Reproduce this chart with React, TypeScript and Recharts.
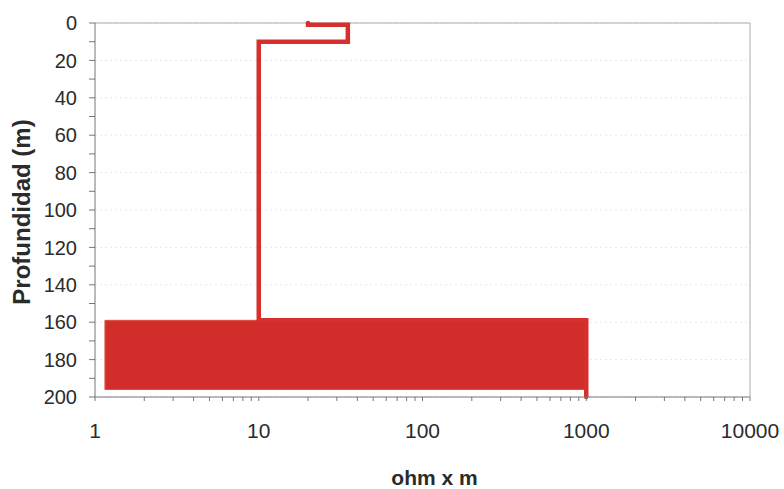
import {
  ComposedChart,
  Line,
  XAxis,
  YAxis,
  CartesianGrid,
  ReferenceArea,
  ReferenceLine
} from "recharts";

// resistivity (ohm x m) vs depth (m)
const resistivity = [20, 20, 35, 35, 10, 10, 1000, 1000];
const depth = [0, 1, 1, 10, 10, 159, 159, 200];

// dense block at the bottom of the profile
const blockRes = [1.15, 1000];
const blockDepth = [159, 196];

const xMajor = [1, 10, 100, 1000, 10000];
const xMinor = [2, 3, 4, 5, 6, 7, 8, 9, 20, 30, 40, 50, 60, 70, 80, 90, 200, 300, 400, 500, 600, 700, 800, 900, 2000, 3000, 4000, 5000, 6000, 7000, 8000, 9000];
const yMajor = [0, 20, 40, 60, 80, 100, 120, 140, 160, 180, 200];
const yMinor = [10, 30, 50, 70, 90, 110, 130, 150, 170, 190];

const data = resistivity.map((r, i) => ({ r, d: depth[i] }));

const RED = "#d6302c";
const TEXT = "#2b2b2b";
const FONT = "'Liberation Sans', Arial, sans-serif";

const XTick = (props: any) => {
  const { x, y, payload } = props;
  if (!xMajor.includes(payload.value)) return <g />;
  return (
    <text x={x} y={y} dy="0.71em" textAnchor="middle" fill={TEXT} fontSize={21} fontFamily={FONT}>
      {payload.value}
    </text>
  );
};

const YTick = (props: any) => {
  const { x, y, payload } = props;
  if (!yMajor.includes(payload.value)) return <g />;
  return (
    <text x={x} y={y} dy="0.355em" textAnchor="end" fill={TEXT} fontSize={20} fontFamily={FONT}>
      {payload.value}
    </text>
  );
};

export default function App() {
  const xTicks = [...xMajor, ...xMinor].sort((a, b) => a - b);
  const yTicks = [...yMajor, ...yMinor].sort((a, b) => a - b);
  return (
    <div style={{ position: "absolute", left: 0, top: 0, background: "#fff" }}>
      <ComposedChart
        width={784}
        height={489}
        data={data}
        margin={{ top: 23, right: 34, bottom: 0, left: 0 }}
      >
        <CartesianGrid
          vertical={false}
          horizontalValues={yMajor}
          stroke="#e8e8e8"
          strokeDasharray="2 3"
        />
        <XAxis
          dataKey="r"
          type="number"
          scale="log"
          domain={[1, 10000]}
          ticks={xTicks}
          interval={0}
          allowDataOverflow
          height={92}
          tickSize={4}
          tickMargin={22}
          tick={<XTick />}
          stroke="#777"
          label={{
            value: "ohm x m",
            position: "insideBottom",
            offset: 4,
            dx: 12,
            fill: TEXT,
            fontSize: 21,
            fontWeight: "bold",
            fontFamily: FONT
          }}
        />
        <YAxis
          dataKey="d"
          type="number"
          reversed
          domain={[0, 200]}
          ticks={yTicks}
          interval={0}
          width={95}
          tickSize={6}
          tickMargin={12}
          tick={<YTick />}
          stroke="#777"
          label={{
            value: "Profundidad (m)",
            angle: -90,
            position: "insideLeft",
            offset: 21,
            dy: 2,
            fill: TEXT,
            fontSize: 24,
            fontWeight: "bold",
            fontFamily: FONT,
            style: { textAnchor: "middle" }
          }}
        />
        <ReferenceLine y={0} stroke="#aaa" />
        <ReferenceLine x={10000} stroke="#aaa" />
        <ReferenceArea
          x1={blockRes[0]}
          x2={blockRes[1]}
          y1={blockDepth[0]}
          y2={blockDepth[1]}
          fill="#d12d2a"
          fillOpacity={1}
          stroke="#e0523a"
          strokeWidth={1}
          ifOverflow="visible"
        />
        <Line
          type="linear"
          dataKey="d"
          stroke={RED}
          strokeWidth={4.5}
          dot={false}
          strokeLinecap="round"
          strokeLinejoin="miter"
          isAnimationActive={false}
        />
      </ComposedChart>
    </div>
  );
}
